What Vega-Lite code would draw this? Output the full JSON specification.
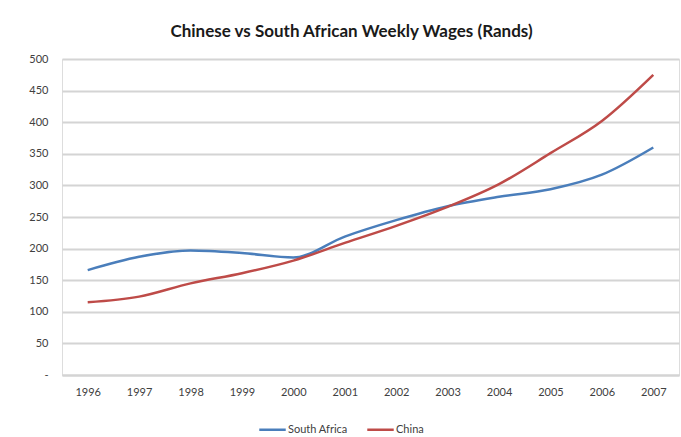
{
  "$schema": "https://vega.github.io/schema/vega-lite/v6.json",
  "width": 617,
  "height": 316,
  "autosize": {"type": "none"},
  "padding": {"left": 62, "top": 59, "right": 2, "bottom": 62},
  "background": "#ffffff",
  "title": {
    "text": "Chinese vs South African Weekly Wages (Rands)",
    "font": "Lato",
    "fontSize": 17,
    "fontWeight": "bold",
    "color": "#1a1a1a",
    "anchor": "middle",
    "dx": -19,
    "offset": 12
  },
  "data": {
    "values": [
      {"year": "1996", "country": "South Africa", "wage": 166},
      {"year": "1997", "country": "South Africa", "wage": 187},
      {"year": "1998", "country": "South Africa", "wage": 197},
      {"year": "1999", "country": "South Africa", "wage": 193},
      {"year": "2000", "country": "South Africa", "wage": 186},
      {"year": "2001", "country": "South Africa", "wage": 219},
      {"year": "2002", "country": "South Africa", "wage": 245},
      {"year": "2003", "country": "South Africa", "wage": 267},
      {"year": "2004", "country": "South Africa", "wage": 282},
      {"year": "2005", "country": "South Africa", "wage": 294},
      {"year": "2006", "country": "South Africa", "wage": 317},
      {"year": "2007", "country": "South Africa", "wage": 360},
      {"year": "1996", "country": "China", "wage": 115},
      {"year": "1997", "country": "China", "wage": 124},
      {"year": "1998", "country": "China", "wage": 145},
      {"year": "1999", "country": "China", "wage": 161},
      {"year": "2000", "country": "China", "wage": 181},
      {"year": "2001", "country": "China", "wage": 209},
      {"year": "2002", "country": "China", "wage": 236},
      {"year": "2003", "country": "China", "wage": 266},
      {"year": "2004", "country": "China", "wage": 302},
      {"year": "2005", "country": "China", "wage": 351},
      {"year": "2006", "country": "China", "wage": 402},
      {"year": "2007", "country": "China", "wage": 475}
    ]
  },
  "mark": {"type": "line", "interpolate": "monotone", "strokeWidth": 2.5},
  "encoding": {
    "x": {
      "field": "year",
      "type": "ordinal",
      "title": null,
      "scale": {"type": "point", "padding": 0.5},
      "axis": {
        "labelAngle": 0,
        "labelFont": "Lato",
        "labelFontSize": 11,
        "labelColor": "#404040",
        "labelPadding": 11,
        "ticks": false,
        "domainColor": "#d4d4d4",
        "domainWidth": 2,
        "grid": false
      }
    },
    "y": {
      "field": "wage",
      "type": "quantitative",
      "title": null,
      "scale": {"domain": [0, 500], "nice": false},
      "axis": {
        "values": [0, 50, 100, 150, 200, 250, 300, 350, 400, 450, 500],
        "labelExpr": "datum.value == 0 ? '-' : datum.label",
        "labelFont": "Lato",
        "labelFontSize": 11,
        "labelColor": "#404040",
        "labelPadding": 14,
        "ticks": false,
        "domain": false,
        "gridColor": "#d4d4d4",
        "gridWidth": 2
      }
    },
    "color": {
      "field": "country",
      "type": "nominal",
      "title": null,
      "scale": {"domain": ["South Africa", "China"], "range": ["#4a7ebb", "#be4b48"]},
      "legend": {
        "orient": "none",
        "direction": "horizontal",
        "legendX": 196,
        "legendY": 356,
        "symbolType": "stroke",
        "symbolSize": 700,
        "symbolStrokeWidth": 2.5,
        "labelFont": "Lato",
        "labelFontSize": 11,
        "labelColor": "#404040",
        "labelOffset": 1,
        "columnPadding": 14
      }
    }
  }
}
